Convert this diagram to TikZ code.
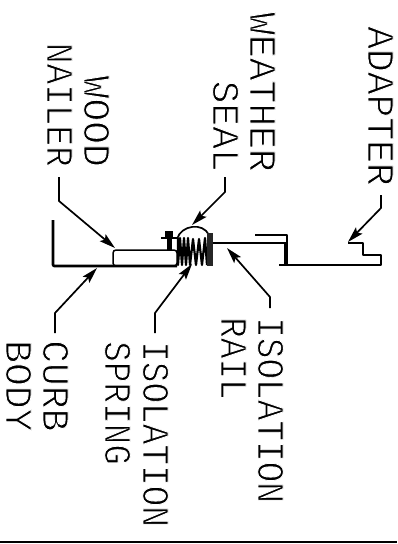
\documentclass[tikz,border=0pt]{standalone}
\usepackage{fontspec}
\setmainfont{Liberation Mono}
\usetikzlibrary{arrows.meta}
\newcommand{\thinlbl}[1]{\special{pdf:code q 2 Tr 0.9 w 1 1 1 RG}#1\special{pdf:code 0 Tr Q}}
\newcommand{\narrowlbl}[1]{\scalebox{0.905}[1]{\thinlbl{#1}}}
\tikzset{
  x=1pt,y=-1pt,
  lbl/.style={rotate=-90,anchor=base west,inner sep=0pt,font=\fontsize{38}{38}\selectfont,text=black},
  lblend/.style={rotate=-90,anchor=base east,inner sep=0pt,font=\fontsize{38}{38}\selectfont,text=black},
  leader/.style={line width=1.7pt,-{Stealth[length=16pt,width=9pt,inset=3pt]}},
  part/.style={line width=2.6pt,line join=round},
}
\begin{document}
\begin{tikzpicture}
\useasboundingbox (0,0) rectangle (397,544);
% labels
\node[lblend] (tWeather) at (250,172) {\thinlbl{WEATHER}};
\node[lblend] (tSeal) at (213,172) {\thinlbl{SEAL}};
\node[lblend] (tWood) at (84,167) {\thinlbl{WOOD}};
\node[lblend] (tNailer) at (47,167) {\narrowlbl{NAILER}};
\node[lblend] (tAdapter) at (368,186) {\thinlbl{ADAPTER}};
\node[lbl] (tCurb) at (43,340) {\thinlbl{CURB}};
\node[lbl] (tBody) at (6,340) {\thinlbl{BODY}};
\node[lbl] (tIso) at (143,341) {\narrowlbl{ISOLATION}};
\node[lbl] (tSpring) at (105,341) {\narrowlbl{SPRING}};
\node[lbl] (tIsoR) at (258,317) {\narrowlbl{ISOLATION}};
\node[lbl] (tRail) at (221,317) {\narrowlbl{RAIL}};
% targets and leader ends
\coordinate (aWood) at (115,248); \coordinate (sWood) at (59,177);
\coordinate (aSeal) at (192,225); \coordinate (sSeal) at (225,177);
\coordinate (aAdapter) at (348,242); \coordinate (sAdapter) at (381,195);
\coordinate (aCurb) at (97,268); \coordinate (sCurb) at (55,333);
\coordinate (aSpring) at (192,264); \coordinate (sSpring) at (155,333);
\coordinate (aRail) at (227,248); \coordinate (sRail) at (270,308);
\draw[leader] (sWood) -- (59,201) -- (aWood);
\draw[leader] (sSeal) -- (225,192) -- (aSeal);
\draw[leader] (sAdapter) -- (381,208) -- (aAdapter);
\draw[leader] (sCurb) -- (55,313) -- (aCurb);
\draw[leader] (sSpring) -- (155,313) -- (aSpring);
\draw[leader] (sRail) -- (270,297) -- (aRail);
% curb body
\draw[part,rounded corners=1pt] (53,220) -- (53,266) -- (177,266);
% nailer
\draw[line width=1.5pt,rounded corners=3pt] (113,250) rectangle (177,266);
% screw
\fill (165,231) rectangle (173,238);
\draw[line width=2pt] (161,238) -- (177,238);
\fill (167,238) rectangle (172,250);
% seal
\draw[line width=1.7pt] (177,239) .. controls (181,225) and (203,222) .. (209,235);
% spring
\draw[line width=2.2pt,line join=round] (178,238) -- (178,265) -- (180,238) -- (182,265) -- (184,238) -- (186,265) -- (188,238) -- (190,265) -- (193,239) -- (196,265) -- (199,239) -- (202,265) -- (205,238) -- (207,265);
% plate
\fill[black!85] (207,233) rectangle (213,266);
% rail
\draw[part] (213,243) -- (287,243);
\draw[part] (255,235) -- (287,235) -- (287,243);
\draw[line width=3.4pt] (286,243) -- (286,266);
% adapter
\draw[part] (279,265) -- (381,265) -- (381,255) -- (363,255) -- (363,243) -- (348,243);
% bottom rule
\draw[line width=2.6pt] (0,542) -- (397,542);
\end{tikzpicture}
\end{document}
